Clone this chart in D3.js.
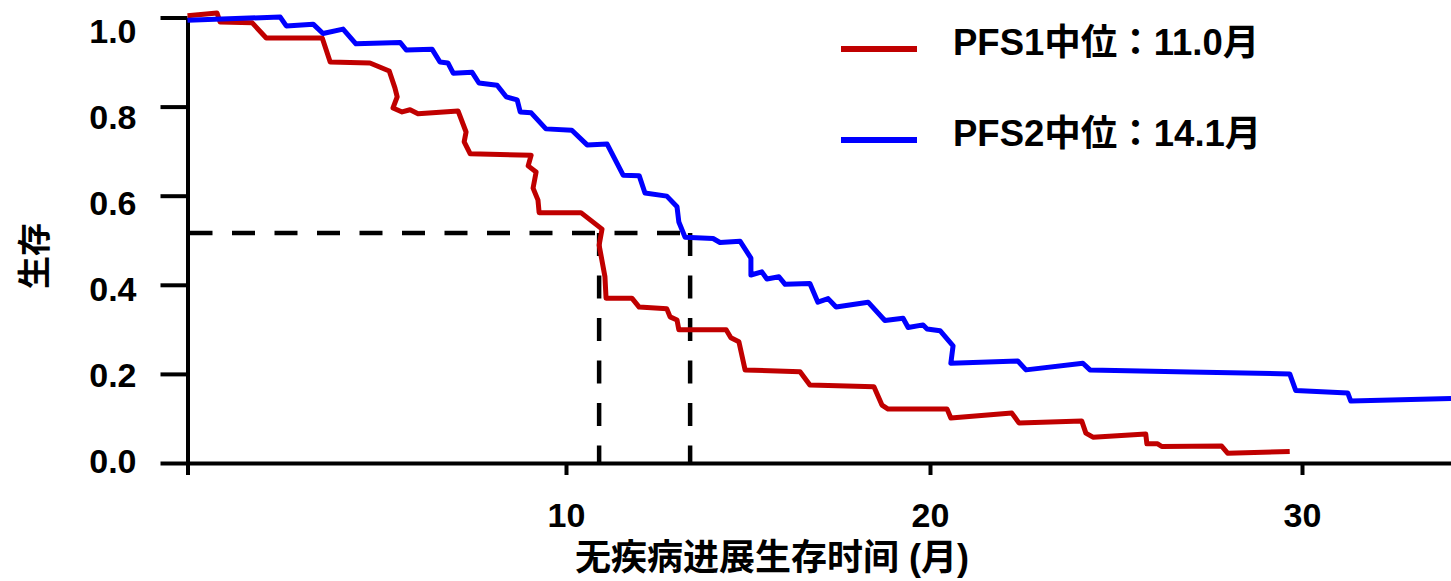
<!DOCTYPE html>
<html>
<head>
<meta charset="utf-8">
<script src="https://cdn.jsdelivr.net/npm/d3@7/dist/d3.min.js"></script>
<style>
  html, body { margin: 0; padding: 0; background: #fff; }
  svg { display: block; }
  text { font-family: "Liberation Sans", Arial, "Noto Sans CJK JP", sans-serif; font-weight: bold; fill: #000; }
</style>
</head>
<body>
<svg id="chart" width="1451" height="581"></svg>
<script>
// ---- data ----
const pfs1Time = [0, 0.78, 0.86, 1.71, 2.08, 3.56, 3.77, 4.82, 5.33, 5.48, 5.54, 5.43, 5.67, 5.88, 6.09, 7.15, 7.36, 7.31, 7.47, 9.08, 9.00, 9.21, 9.13, 9.26, 9.29, 10.41, 10.99, 10.91, 11.07, 11.10, 11.81, 12.01, 12.77, 12.86, 13.05, 13.10, 14.40, 14.53, 14.75, 14.92, 16.43, 16.70, 18.46, 18.68, 18.85, 20.46, 20.56, 22.20, 22.39, 24.08, 24.19, 24.38, 25.80, 25.83, 26.12, 26.23, 27.84, 28.00, 29.67];
const pfs1Surv = [1.004, 1.010, 0.990, 0.988, 0.954, 0.954, 0.900, 0.898, 0.880, 0.842, 0.822, 0.797, 0.788, 0.793, 0.784, 0.790, 0.743, 0.721, 0.694, 0.691, 0.667, 0.653, 0.617, 0.590, 0.562, 0.562, 0.525, 0.489, 0.418, 0.370, 0.370, 0.350, 0.346, 0.328, 0.321, 0.299, 0.299, 0.281, 0.272, 0.209, 0.205, 0.175, 0.171, 0.130, 0.121, 0.121, 0.101, 0.112, 0.090, 0.094, 0.067, 0.058, 0.065, 0.043, 0.043, 0.037, 0.038, 0.022, 0.026];

const pfs2Time = [0, 2.45, 2.61, 3.32, 3.58, 4.11, 4.45, 5.62, 5.78, 6.46, 6.67, 6.88, 7.02, 7.52, 7.70, 8.18, 8.42, 8.71, 8.79, 9.08, 9.47, 10.16, 10.58, 11.13, 11.57, 12.01, 12.17, 12.77, 13.05, 13.10, 13.27, 14.04, 14.23, 14.78, 15.08, 15.08, 15.38, 15.52, 15.85, 16.02, 16.70, 16.92, 17.20, 17.42, 18.30, 18.76, 19.26, 19.40, 19.81, 19.92, 20.27, 20.62, 20.56, 22.36, 22.58, 24.11, 24.30, 26.98, 29.67, 29.83, 31.23, 31.31, 34.0];
const pfs2Surv = [0.994, 1.001, 0.981, 0.985, 0.964, 0.974, 0.941, 0.944, 0.927, 0.929, 0.900, 0.898, 0.875, 0.877, 0.853, 0.848, 0.822, 0.815, 0.788, 0.786, 0.750, 0.747, 0.714, 0.716, 0.646, 0.645, 0.606, 0.599, 0.575, 0.541, 0.507, 0.504, 0.495, 0.498, 0.460, 0.422, 0.429, 0.413, 0.418, 0.401, 0.403, 0.361, 0.369, 0.350, 0.361, 0.320, 0.325, 0.304, 0.310, 0.301, 0.297, 0.263, 0.224, 0.229, 0.209, 0.224, 0.209, 0.204, 0.200, 0.163, 0.157, 0.139, 0.145];

const seriesNames = ["PFS1中位：11.0月", "PFS2中位：14.1月"];
const medianSurv = 0.516;
const medianTimes = [10.91, 13.41];
const xTicks = [0, 10, 20, 30];
const yTicks = [0, 0.2, 0.4, 0.6, 0.8, 1.0];
const xTitle = "无疾病进展生存时间 (月)";
const yTitle = "生存";

// ---- layout ----
const svg = d3.select("#chart");
const colors = ["#C00000", "#0000FF"];

const x = d3.scaleLinear()
  .domain([0, 10, 20, 30, 34])
  .range([187.5, 566, 930, 1302, 1451]);
const y = d3.scaleLinear().domain([0, 1]).range([463, 17.5]);
// tick labels in the original sit on a slightly tighter spacing than the ticks
const yLabel = d3.scaleLinear().domain([0, 1]).range([462, 31.5]);

// axes
const yAxis = d3.axisLeft(y).tickValues(yTicks).tickFormat(d3.format(".1f"))
  .tickSize(27).tickSizeOuter(0).tickPadding(24);
const gy = svg.append("g").attr("transform", `translate(${x(0)},0)`).call(yAxis);
gy.selectAll(".tick text").attr("y", d => yLabel(d) - y(d));

const xAxis = d3.axisBottom(x).tickValues(xTicks).tickFormat(d => d === 0 ? "" : d)
  .tickSize(12).tickSizeOuter(0).tickPadding(28);
const gx = svg.append("g").attr("transform", `translate(0,${y(0)})`).call(xAxis);

[gx, gy].forEach(g => {
  g.select(".domain").attr("stroke", "#000").attr("stroke-width", 4);
  g.selectAll(".tick line").attr("stroke", "#000").attr("stroke-width", 4);
  g.selectAll(".tick text").style("font-size", "34px").style("font-weight", "bold")
    .style("font-family", '"Liberation Sans", Arial, sans-serif').attr("fill", "#000");
});

// median dashed lines
const dash = "23,19.5";
svg.append("line")
  .attr("x1", x(0) + 2).attr("x2", x(medianTimes[1]))
  .attr("y1", y(medianSurv)).attr("y2", y(medianSurv))
  .attr("stroke", "#000").attr("stroke-width", 4.5).attr("stroke-dasharray", dash);
medianTimes.forEach(t => {
  svg.append("line")
    .attr("x1", x(t)).attr("x2", x(t))
    .attr("y1", y(medianSurv)).attr("y2", y(0))
    .attr("stroke", "#000").attr("stroke-width", 4.5).attr("stroke-dasharray", dash);
});

// curves
const line = d3.line().x(d => x(d[0])).y(d => y(d[1]));
const series = [d3.zip(pfs1Time, pfs1Surv), d3.zip(pfs2Time, pfs2Surv)];
series.forEach((s, i) => {
  svg.append("path").datum(s)
    .attr("d", line)
    .attr("fill", "none")
    .attr("stroke", colors[i])
    .attr("stroke-width", 5)
    .attr("stroke-linejoin", "round");
});

// legend
const leg = svg.append("g");
seriesNames.forEach((name, i) => {
  const yy = 49 + i * 91;
  leg.append("line").attr("x1", 841).attr("x2", 917).attr("y1", yy).attr("y2", yy)
    .attr("stroke", colors[i]).attr("stroke-width", 6);
  leg.append("text").attr("x", 953).attr("y", yy + 6).style("font-size", "36.5px").text(name);
});

// titles
svg.append("text").attr("x", 772).attr("y", 570).attr("text-anchor", "middle")
  .style("font-size", "36px").text(xTitle);
svg.append("text").attr("transform", "translate(46,256) rotate(-90)").attr("text-anchor", "middle")
  .style("font-size", "33px").text(yTitle);
</script>
</body>
</html>
